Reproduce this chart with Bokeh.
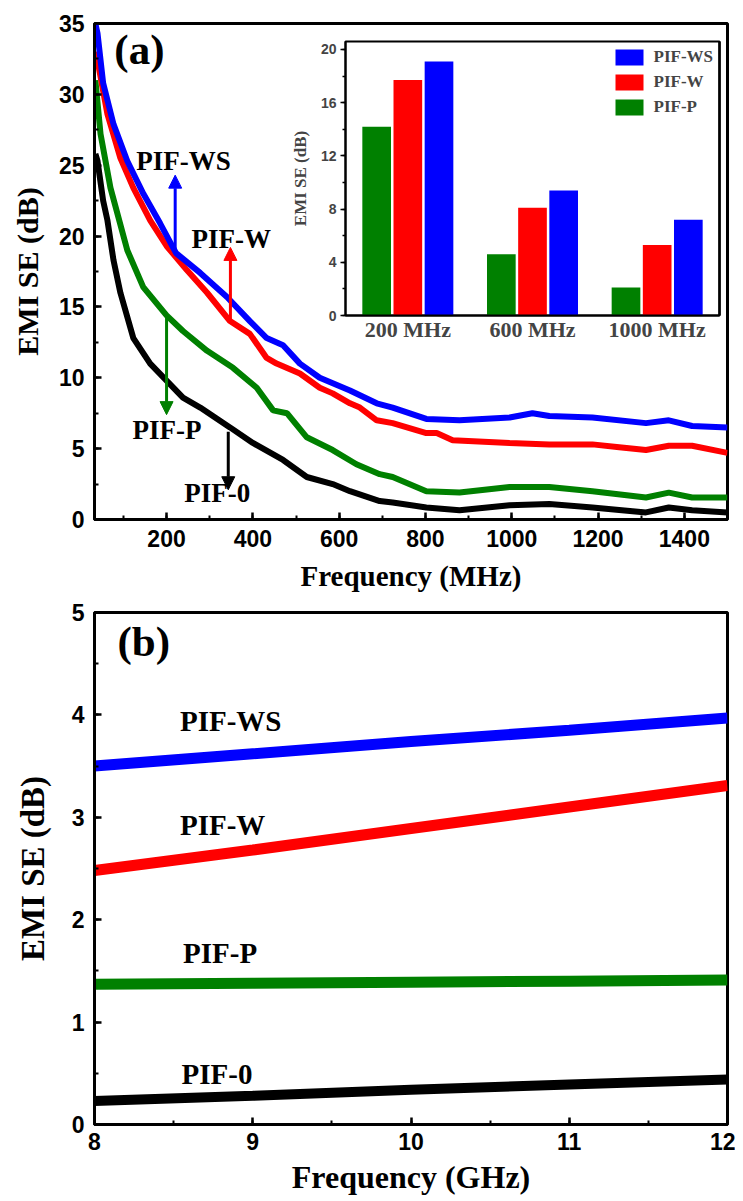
from bokeh.plotting import figure
from bokeh.models import (Range1d, FactorRange, SingleIntervalTicker, Arrow, NormalHead,
                          Legend, LegendItem, ColumnDataSource, LinearAxis, FixedTicker)
from bokeh.layouts import column
from bokeh.transform import dodge
from bokeh.core.properties import value
from bokeh.embed import file_html
from bokeh.resources import INLINE

# ---------------- Panel (a): EMI SE vs frequency (MHz) ----------------
freq_ws = [35, 40, 53, 77, 109, 146, 185, 222, 278, 340, 393, 432, 470, 509, 555, 625, 687,
           724, 802, 879, 995, 1048, 1087, 1187, 1311, 1364, 1418, 1500]
se_ws = [35.0, 34.3, 30.8, 27.9, 25.3, 23.0, 20.9, 18.8, 17.4, 15.7, 14.0, 12.8, 12.3, 11.0, 10.0,
         9.1, 8.2, 7.9, 7.1, 7.0, 7.2, 7.5, 7.3, 7.2, 6.8, 7.0, 6.6, 6.5]

freq_w = [35, 40, 63, 93, 123, 162, 200, 247, 294, 347, 393, 432, 455, 509, 555, 585, 625, 648,
          687, 724, 802, 826, 863, 995, 1087, 1187, 1249, 1311, 1364, 1418, 1500]
se_w = [33.0, 32.4, 28.6, 25.5, 23.4, 21.1, 19.3, 17.6, 16.0, 14.0, 13.1, 11.4, 11.0, 10.3, 9.3,
        8.9, 8.2, 7.9, 7.0, 6.8, 6.1, 6.1, 5.6, 5.4, 5.3, 5.3, 5.1, 4.9, 5.2, 5.2, 4.7]

freq_p = [35, 47, 70, 109, 146, 200, 238, 294, 354, 409, 447, 479, 525, 585, 640, 694, 724, 802,
          879, 995, 1087, 1187, 1311, 1364, 1418, 1500]
se_p = [31.0, 27.2, 23.4, 19.0, 16.4, 14.4, 13.3, 11.9, 10.7, 9.3, 7.7, 7.5, 5.8, 4.9, 3.9, 3.2,
        3.0, 2.0, 1.9, 2.3, 2.3, 2.0, 1.55, 1.9, 1.55, 1.55]

freq_0 = [35, 40, 53, 63, 77, 93, 123, 162, 200, 238, 278, 347, 400, 470, 525, 585, 625, 694,
          724, 802, 879, 995, 1087, 1187, 1311, 1364, 1418, 1500]
se_0 = [25.8, 25.3, 22.5, 21.1, 18.3, 16.0, 12.8, 11.0, 9.8, 8.6, 7.9, 6.5, 5.4, 4.2, 3.0, 2.5,
        2.0, 1.3, 1.2, 0.85, 0.65, 1.0, 1.1, 0.85, 0.5, 0.85, 0.65, 0.5]

# labels in panel (a): text, x, y
lab_a_text = ["PIF-WS", "PIF-W", "PIF-P", "PIF-0"]
lab_a_x = [130, 258, 121, 241]
lab_a_y = [25.3, 19.8, 6.3, 1.9]
# arrows in panel (a): x, y_start, y_end
arr_a_x = [220, 348, 200, 343]
arr_a_y0 = [18.8, 14.0, 14.4, 6.2]
arr_a_y1 = [24.3, 19.2, 7.4, 2.1]

# ---------------- Inset bar chart ----------------
inset_cats = ["200 MHz", "600 MHz", "1000 MHz"]
inset_p = [14.2, 4.6, 2.1]
inset_w = [17.7, 8.1, 5.3]
inset_ws = [19.1, 9.4, 7.2]

# ---------------- Panel (b): EMI SE vs frequency (GHz) ----------------
freq_b = [8, 9, 10, 11, 12]
se_b_ws = [3.50, 3.62, 3.74, 3.85, 3.97]
se_b_w = [2.48, 2.68, 2.89, 3.10, 3.31]
se_b_p = [1.37, 1.38, 1.39, 1.40, 1.41]
se_b_0 = [0.23, 0.28, 0.34, 0.39, 0.44]

lab_b_text = ["PIF-WS", "PIF-W", "PIF-P", "PIF-0"]
lab_b_x = [8.54, 8.54, 8.56, 8.55]
lab_b_y = [3.94, 2.92, 1.67, 0.49]

BLUE, RED, GREEN, BLACK = "#0000FF", "#FF0000", "#008000", "#000000"
SERIF = "Liberation Serif"
SANS = "Liberation Sans"


def style_axis(ax, tick_size, label_size):
    ax.axis_line_width = 3
    ax.axis_line_color = "black"
    ax.major_tick_in = 7
    ax.major_tick_out = 0
    ax.minor_tick_in = 4
    ax.minor_tick_out = 0
    ax.major_tick_line_width = 2.5
    ax.minor_tick_line_width = 2
    ax.major_label_text_font = SANS
    ax.major_label_text_font_style = "bold"
    ax.major_label_text_font_size = tick_size
    ax.major_label_text_color = "black"
    ax.axis_label_text_font = SERIF
    ax.axis_label_text_font_style = "bold"
    ax.axis_label_text_font_size = label_size
    ax.axis_label_text_color = "black"


# ---------- Figure (a) ----------
p1 = figure(frame_width=633, frame_height=496, min_border_left=94, min_border_top=23,
            min_border_right=8, min_border_bottom=77,
            x_range=Range1d(33, 1500), y_range=Range1d(0, 35),
            output_backend="svg", toolbar_location=None)
p1.grid.visible = False
p1.outline_line_color = "black"
p1.outline_line_width = 3
p1.xaxis.ticker = SingleIntervalTicker(interval=200, num_minor_ticks=2)
p1.yaxis.ticker = SingleIntervalTicker(interval=5, num_minor_ticks=2)
p1.xaxis.axis_label = "Frequency (MHz)"
p1.yaxis.axis_label = "EMI SE (dB)"
style_axis(p1.xaxis[0], "23px", "29px")
style_axis(p1.yaxis[0], "23px", "30px")
p1.xaxis.major_label_standoff = 10
p1.yaxis.major_label_standoff = 10
p1.xaxis.axis_label_standoff = 10
p1.yaxis.axis_label_standoff = 12

p1.line(freq_0, se_0, line_color=BLACK, line_width=6)
p1.line(freq_p, se_p, line_color=GREEN, line_width=6)
p1.line(freq_w, se_w, line_color=RED, line_width=6)
p1.line(freq_ws, se_ws, line_color=BLUE, line_width=6)

arrow_colors = [BLUE, RED, GREEN, BLACK]
for xa, y0, y1, c in zip(arr_a_x, arr_a_y0, arr_a_y1, arrow_colors):
    p1.add_layout(Arrow(end=NormalHead(size=13, fill_color=c, line_color=c),
                        x_start=xa, y_start=y0, x_end=xa, y_end=y1,
                        line_color=c, line_width=3))

p1.text(x=lab_a_x, y=lab_a_y, text=lab_a_text, text_font=value(SERIF), text_font_style="bold",
        text_font_size="27px", text_align="left", text_baseline="middle", text_color="black")
p1.text(x=[79], y=[33.2], text=["(a)"], text_font=value(SERIF), text_font_style="bold",
        text_font_size="43px", text_align="left", text_baseline="middle", text_color="black")

# ---------- Inset ----------
src = ColumnDataSource(dict(cats=inset_cats, p=inset_p, w=inset_w, ws=inset_ws))
pin = figure(frame_width=374, frame_height=274, min_border_left=87, min_border_top=5,
             min_border_right=10, min_border_bottom=30,
             x_range=FactorRange(*inset_cats, range_padding=0), y_range=Range1d(0, 20.6),
             output_backend="svg", toolbar_location=None,
             styles={"position": "absolute", "left": "251px", "top": "36px"})
pin.border_fill_alpha = 0
pin.background_fill_color = "white"
pin.grid.visible = False
pin.outline_line_color = "black"
pin.outline_line_width = 2
rp = pin.vbar(x=dodge("cats", -0.25, range=pin.x_range), top="p", width=0.23, source=src,
              fill_color=GREEN, line_color=None)
rw = pin.vbar(x=dodge("cats", 0.0, range=pin.x_range), top="w", width=0.23, source=src,
              fill_color=RED, line_color=None)
rws = pin.vbar(x=dodge("cats", 0.25, range=pin.x_range), top="ws", width=0.23, source=src,
               fill_color=BLUE, line_color=None)
pin.yaxis.ticker = SingleIntervalTicker(interval=4, num_minor_ticks=2)
pin.yaxis.axis_label = "EMI SE (dB)"
for ax in (pin.xaxis[0], pin.yaxis[0]):
    ax.axis_line_width = 2
    ax.major_tick_in = 0
    ax.major_tick_out = 5
    ax.minor_tick_in = 0
    ax.minor_tick_out = 3
    ax.major_tick_line_width = 1.5
    ax.minor_tick_line_width = 1.5
pin.yaxis.major_label_text_font = SANS
pin.yaxis.major_label_text_font_style = "bold"
pin.yaxis.major_label_text_font_size = "14px"
pin.yaxis.major_label_standoff = 4
pin.yaxis.axis_label_text_font = SERIF
pin.yaxis.axis_label_text_font_style = "bold"
pin.yaxis.axis_label_text_font_size = "17px"
pin.yaxis.axis_label_standoff = 8
pin.xaxis.major_tick_out = 0
pin.xaxis.major_label_text_font = SERIF
pin.xaxis.major_label_text_font_style = "bold"
pin.xaxis.major_label_text_font_size = "22px"
pin.xaxis.major_label_standoff = 1
# plain right edge line for the inset box (no ticks, no labels)
right_edge = LinearAxis(ticker=FixedTicker(ticks=[]), axis_line_width=2.5, axis_line_color="black",
                        major_tick_in=0, major_tick_out=0, minor_tick_in=0, minor_tick_out=0)
pin.add_layout(right_edge, "right")
legend = Legend(items=[LegendItem(label="PIF-WS", renderers=[rws]),
                       LegendItem(label="PIF-W", renderers=[rw]),
                       LegendItem(label="PIF-P", renderers=[rp])],
                location="top_right", margin=6, padding=2, spacing=5,
                glyph_width=35, glyph_height=20, label_standoff=7,
                label_text_font=SERIF, label_text_font_style="bold", label_text_font_size="17px",
                border_line_color=None, background_fill_alpha=0)
pin.add_layout(legend)

# ---------- Figure (b) ----------
p2 = figure(frame_width=633, frame_height=512, min_border_left=94, min_border_top=16,
            min_border_right=8, min_border_bottom=70,
            x_range=Range1d(8, 12), y_range=Range1d(0, 5),
            output_backend="svg", toolbar_location=None)
p2.grid.visible = False
p2.outline_line_color = "black"
p2.outline_line_width = 3
p2.xaxis.ticker = SingleIntervalTicker(interval=1, num_minor_ticks=2)
p2.yaxis.ticker = SingleIntervalTicker(interval=1, num_minor_ticks=2)
p2.xaxis.axis_label = "Frequency (GHz)"
p2.yaxis.axis_label = "EMI SE (dB)"
style_axis(p2.xaxis[0], "23px", "32px")
style_axis(p2.yaxis[0], "23px", "33px")
p2.xaxis.major_label_standoff = 8
p2.yaxis.major_label_standoff = 10
p2.xaxis.axis_label_standoff = 6
p2.yaxis.axis_label_standoff = 18

p2.line(freq_b, se_b_0, line_color=BLACK, line_width=10)
p2.line(freq_b, se_b_p, line_color=GREEN, line_width=11)
p2.line(freq_b, se_b_w, line_color=RED, line_width=11)
p2.line(freq_b, se_b_ws, line_color=BLUE, line_width=11)
p2.text(x=lab_b_x, y=lab_b_y, text=lab_b_text, text_font=value(SERIF), text_font_style="bold",
        text_font_size="29px", text_align="left", text_baseline="middle", text_color="black")
p2.text(x=[8.145], y=[4.72], text=["(b)"], text_font=value(SERIF), text_font_style="bold",
        text_font_size="43px", text_align="left", text_baseline="middle", text_color="black")

layout = column(p1, p2, pin, spacing=0, styles={"position": "relative"})

open("out.html", "w").write(file_html(layout, INLINE))
